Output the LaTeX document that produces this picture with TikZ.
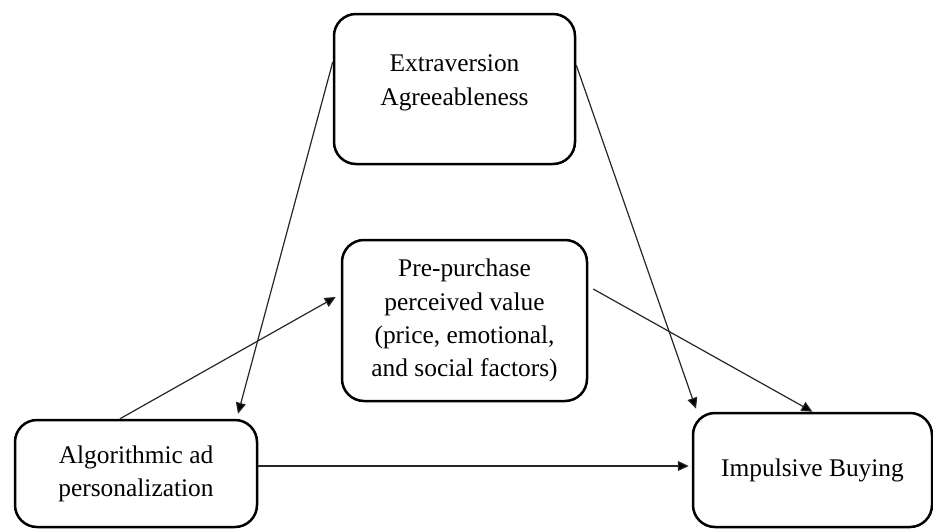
\documentclass[tikz,border=0pt]{standalone}
\usepackage{fontspec}
\setmainfont{Liberation Serif}
\usepackage{tikz}
\usetikzlibrary{arrows.meta,calc,positioning}
\tikzstyle{factor} = [rectangle, rounded corners=11pt, draw=black, line width=1.25pt, fill=white, align=center, font=\fontsize{12.7}{16.6}\selectfont]
\tikzstyle{link} = [draw=black!85, line width=0.6pt]

\begin{document}
\begin{tikzpicture}[x=0.5pt,y=-0.5pt,>={Triangle[length=5.5pt,width=5pt]},auto]

        \useasboundingbox (0,0) rectangle (933,531);

        \node[factor, minimum width=120.5pt, minimum height=75pt, text depth=9pt] (Traits) at (454.5,89) {Extraversion\\Agreeableness};
        \node[factor, minimum width=122.5pt, minimum height=80.5pt] (Value) at (464.5,320.5) {Pre-purchase\\perceived value\\(price, emotional,\\and social factors)};

        \node[factor, minimum width=121pt, minimum height=53.5pt] (Algo) at (136,473.5) {Algorithmic ad\\personalization};
        \node[factor, minimum width=119.5pt, minimum height=57pt] (Impulse) at (812.5,470) {Impulsive Buying};

        \path[link]
            ([yshift=13.5pt]Traits.west) edge[->] ([xshift=51pt,yshift=2.5pt]Algo.north)
            ([xshift=-8pt]Algo.north) edge[->] ([xshift=-2.5pt,yshift=11.75pt]Value.west)
            ([yshift=12pt]Traits.east) edge[->] ([xshift=-58.25pt,yshift=1.5pt]Impulse.north)
            ([xshift=2.5pt,yshift=15.75pt]Value.east) edge[->] (Impulse.north)
            ([yshift=3.75pt]Algo.east) edge[->] ([xshift=-1.5pt,yshift=2pt]Impulse.west);

\end{tikzpicture}
\end{document}
